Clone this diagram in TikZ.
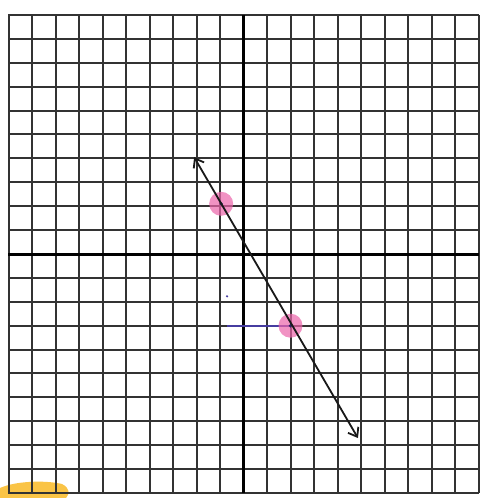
\documentclass[tikz,border=0pt]{standalone}
\usetikzlibrary{arrows.meta}
\definecolor{pinkmark}{RGB}{236,100,170}
\definecolor{penblue}{RGB}{70,60,160}
\definecolor{hilite}{RGB}{250,190,50}
\tikzset{
  gridline/.style={line width=2pt, black!80},
  axisline/.style={line width=3pt, black},
  plotline/.style={line width=1.8pt, black!90, {Straight Barb[length=8pt,width=12pt,line width=1.8pt]}-{Straight Barb[length=8pt,width=12pt,line width=1.8pt]}},
  dotmark/.style={fill=pinkmark, fill opacity=0.7, draw=none},
}
\begin{document}
\begin{tikzpicture}[x=1pt,y=-1pt]
\useasboundingbox (0,0) rectangle (490,498);
\fill[white] (0,0) rectangle (490,498);
% highlighter smudge bottom-left
\fill[hilite, opacity=0.9] (0,498) -- (0,488) .. controls (15,481) and (45,480) .. (62,484) .. controls (70,488) and (70,494) .. (66,498) -- cycle;
% grid
\foreach \i in {0,...,20} {
  \pgfmathsetmacro{\gx}{round(8.5+23.5*\i)}
  \pgfmathsetmacro{\gy}{round(15+23.9*\i)}
  \draw[gridline] (\gx,15) -- (\gx,493);
  \draw[gridline] (8,\gy) -- (479,\gy);
}
% axes
\draw[axisline] (243.5,15) -- (243.5,493);
\draw[axisline] (8,254.5) -- (479,254.5);
\begin{scope}[shift={(243.5,254)}]
\begin{scope}[x=23.5pt,y=23.9pt]
  \coordinate (top) at (-2.1,4.05);
  \coordinate (bot) at (4.87,-7.7);
  \coordinate (pA) at (-0.95,2.1);
  \coordinate (pB) at (2.0,-3.0);
  \coordinate (bl) at (-0.72,-3.0);
  % blue pen construction line
  \draw[penblue, line width=1.8pt] (bl) -- (pB);
  \fill[penblue] (-0.7,-1.77) circle (1.2pt);
  % pink dots
  \fill[dotmark] (pA) circle (12pt);
  \fill[dotmark] (pB) circle (12pt);
  \fill[penblue!60!black] (pA) circle (1.8pt);
  \fill[penblue!60!black] (pB) circle (1.8pt);
  % line
  \draw[plotline] (top) -- (bot);
\end{scope}
\end{scope}
\end{tikzpicture}
\end{document}
